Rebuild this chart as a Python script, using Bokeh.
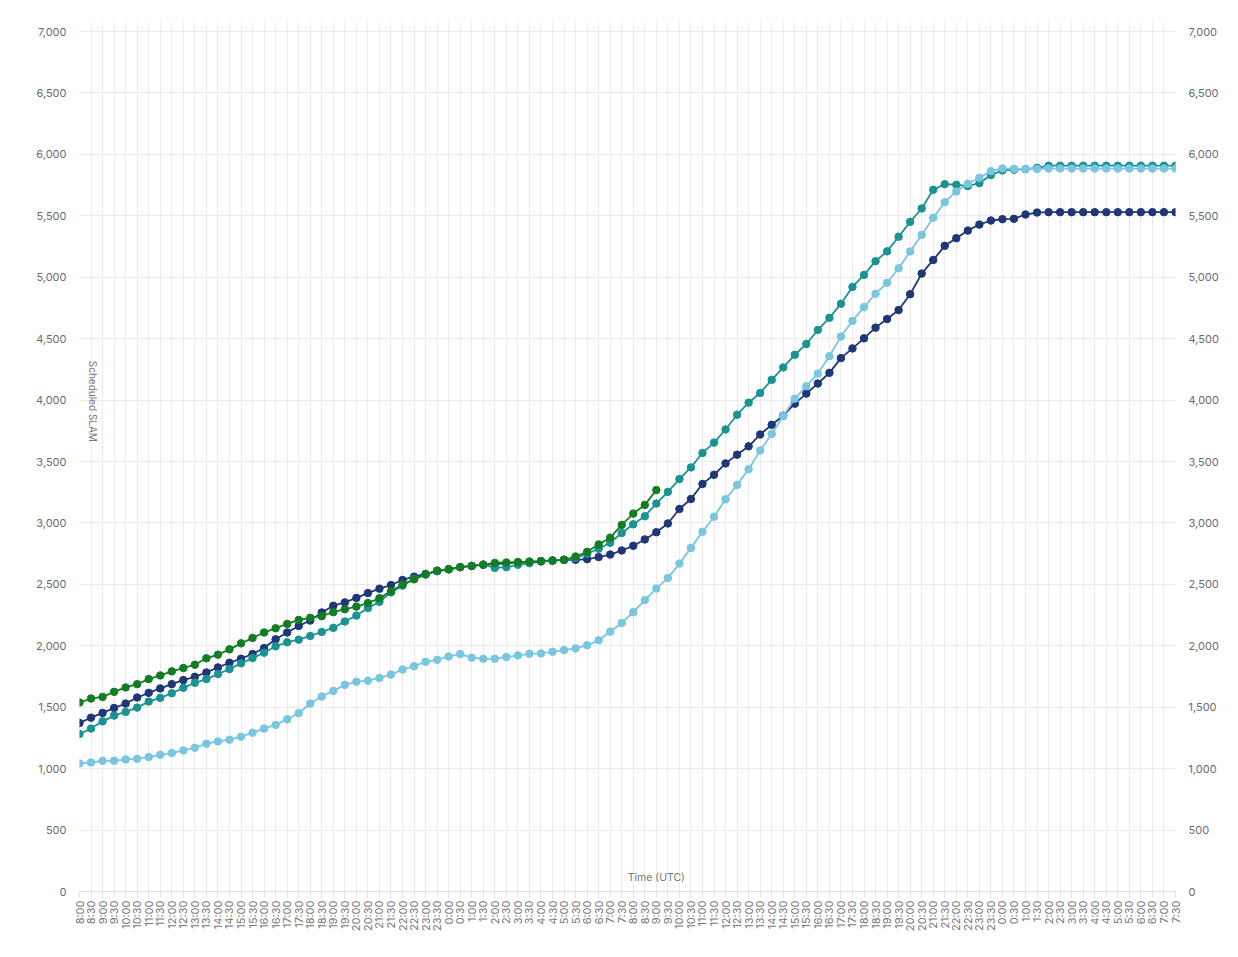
import math
from bokeh.plotting import figure
from bokeh.models import (ColumnDataSource, LinearAxis, FixedTicker, NumeralTickFormatter,
                          Range1d, Label)
from bokeh.embed import file_html
from bokeh.resources import INLINE

time_labels = [
    "8:00", "8:30", "9:00", "9:30", "10:00", "10:30", "11:00", "11:30", "12:00", "12:30",
    "13:00", "13:30", "14:00", "14:30", "15:00", "15:30", "16:00", "16:30", "17:00", "17:30",
    "18:00", "18:30", "19:00", "19:30", "20:00", "20:30", "21:00", "21:30", "22:00", "22:30",
    "23:00", "23:30", "0:00", "0:30", "1:00", "1:30", "2:00", "2:30", "3:00", "3:30",
    "4:00", "4:30", "5:00", "5:30", "6:00", "6:30", "7:00", "7:30", "8:00", "8:30",
    "9:00", "9:30", "10:00", "10:30", "11:00", "11:30", "12:00", "12:30", "13:00", "13:30",
    "14:00", "14:30", "15:00", "15:30", "16:00", "16:30", "17:00", "17:30", "18:00", "18:30",
    "19:00", "19:30", "20:00", "20:30", "21:00", "21:30", "22:00", "22:30", "23:00", "23:30",
    "0:00", "0:30", "1:00", "1:30", "2:00", "2:30", "3:00", "3:30", "4:00", "4:30",
    "5:00", "5:30", "6:00", "6:30", "7:00", "7:30",
]

series_navy = [
    1372, 1415, 1454, 1494, 1530, 1579, 1617, 1653, 1688, 1721,
    1748, 1783, 1824, 1862, 1895, 1933, 1982, 2053, 2108, 2162,
    2206, 2271, 2326, 2353, 2390, 2429, 2465, 2495, 2536, 2563,
    2585, 2607, 2623, 2640, 2650, 2660, 2665, 2672, 2678, 2684,
    2688, 2693, 2700, 2700, 2705, 2722, 2743, 2776, 2814, 2866,
    2925, 2996, 3114, 3195, 3318, 3392, 3485, 3556, 3624, 3720,
    3799, 3873, 3971, 4053, 4135, 4222, 4342, 4421, 4503, 4590,
    4660, 4733, 4862, 5030, 5141, 5256, 5318, 5380, 5429, 5462,
    5473, 5476, 5511, 5527, 5530, 5530, 5530, 5530, 5530, 5530,
    5530, 5530, 5530, 5530, 5530, 5530,
]

series_teal = [
    1282, 1326, 1385, 1432, 1462, 1497, 1546, 1576, 1614, 1658,
    1699, 1729, 1770, 1811, 1857, 1900, 1944, 1996, 2029, 2050,
    2080, 2113, 2146, 2198, 2246, 2307, 2358, 2435, 2490, 2545,
    2580, 2610, 2623, 2640, 2650, 2660, 2634, 2640, 2659, 2672,
    2686, 2694, 2700, 2716, 2749, 2790, 2839, 2918, 2989, 3055,
    3158, 3253, 3357, 3452, 3570, 3654, 3761, 3881, 3979, 4058,
    4165, 4266, 4369, 4457, 4571, 4670, 4784, 4921, 5019, 5131,
    5211, 5330, 5451, 5560, 5712, 5758, 5753, 5742, 5766, 5832,
    5870, 5875, 5880, 5891, 5908, 5908, 5908, 5908, 5908, 5908,
    5908, 5908, 5908, 5908, 5908, 5908,
]

series_light = [
    1042, 1050, 1064, 1064, 1075, 1080, 1094, 1113, 1127, 1148,
    1170, 1203, 1222, 1236, 1260, 1293, 1326, 1356, 1402, 1451,
    1530, 1587, 1633, 1682, 1708, 1716, 1738, 1766, 1807, 1834,
    1870, 1886, 1913, 1933, 1903, 1894, 1894, 1908, 1922, 1935,
    1938, 1952, 1965, 1979, 2004, 2045, 2115, 2186, 2274, 2372,
    2466, 2551, 2669, 2797, 2928, 3051, 3193, 3310, 3438, 3589,
    3725, 3870, 4012, 4113, 4216, 4358, 4517, 4645, 4757, 4866,
    4955, 5073, 5210, 5345, 5484, 5611, 5698, 5761, 5810, 5864,
    5886, 5882, 5882, 5882, 5885, 5885, 5885, 5885, 5885, 5885,
    5885, 5885, 5885, 5885, 5885, 5885,
]

series_green = [
    1538, 1571, 1584, 1625, 1661, 1688, 1729, 1759, 1792, 1819,
    1846, 1898, 1928, 1971, 2020, 2064, 2108, 2143, 2178, 2211,
    2228, 2241, 2274, 2298, 2319, 2348, 2388, 2443, 2498, 2541,
    2582, 2612, 2623, 2640, 2650, 2661, 2675, 2678, 2682, 2686,
    2690, 2695, 2700, 2727, 2765, 2825, 2880, 2984, 3076, 3147,
    3268,
]

y_ticks = [0, 500, 1000, 1500, 2000, 2500, 3000, 3500, 4000, 4500, 5000, 5500, 6000, 6500, 7000]

FONT = "Inter"
LABEL_COLOR = "#6b6b6b"
GRID_COLOR = "#ebebeb"

n = len(time_labels)
p = figure(width=1230, height=943, output_backend="svg", toolbar_location=None,
           x_range=Range1d(0, n - 1), y_range=Range1d(0, 7082),
           min_border_left=79, min_border_right=55, min_border_top=21, min_border_bottom=52,
           y_axis_location="left")
p.outline_line_color = None
p.background_fill_color = "white"
p.border_fill_color = "white"

# x axis
xa = p.xaxis[0]
xa.ticker = FixedTicker(ticks=list(range(n)))
xa.major_label_overrides = {i: lab for i, lab in enumerate(time_labels)}
xa.major_label_orientation = math.pi / 2
xa.major_label_text_font = FONT
xa.major_label_text_font_size = "11px"
xa.major_label_text_color = "#777777"
xa.axis_line_color = "#dedede"
xa.major_tick_line_color = "#e3e3e3"
xa.major_tick_out = 6
xa.major_tick_in = 0
xa.minor_tick_line_color = None
xa.major_label_standoff = 3

# y axes
fmt = NumeralTickFormatter(format="0,0")
ya = p.yaxis[0]
ra = LinearAxis()
p.add_layout(ra, "right")
for ax in (ya, ra):
    ax.ticker = FixedTicker(ticks=y_ticks)
    ax.formatter = fmt
    ax.major_label_text_font = FONT
    ax.major_label_text_font_size = "11px"
    ax.major_label_text_color = LABEL_COLOR
    ax.axis_line_color = None
    ax.major_tick_line_color = None
    ax.minor_tick_line_color = None
    ax.major_tick_out = 0
    ax.major_tick_in = 0
    ax.major_label_standoff = 13

p.xgrid.ticker = FixedTicker(ticks=list(range(n)))
p.xgrid.grid_line_color = GRID_COLOR
p.ygrid.ticker = FixedTicker(ticks=y_ticks)
p.ygrid.grid_line_color = GRID_COLOR

series = [
    (series_navy, "#1f3677"),
    (series_teal, "#1b9393"),
    (series_light, "#78c6df"),
    (series_green, "#127d22"),
]
for vals, col in series:
    src = ColumnDataSource(dict(x=list(range(len(vals))), y=vals))
    p.line("x", "y", source=src, line_color=col, line_width=1.8)
    p.scatter("x", "y", source=src, size=7.5, fill_color=col, line_color=col)

p.add_layout(Label(x=1.2, y=3990, text="Scheduled SLAM", angle=-math.pi / 2,
                   text_align="center", text_baseline="middle",
                   text_font=FONT, text_font_size="10px", text_color="#777777"))
p.add_layout(Label(x=50.0, y=112, text="Time (UTC)",
                   text_align="center", text_baseline="middle",
                   text_font=FONT, text_font_size="10.5px", text_color="#777777"))

open("out.html", "w").write(file_html(p, INLINE))
